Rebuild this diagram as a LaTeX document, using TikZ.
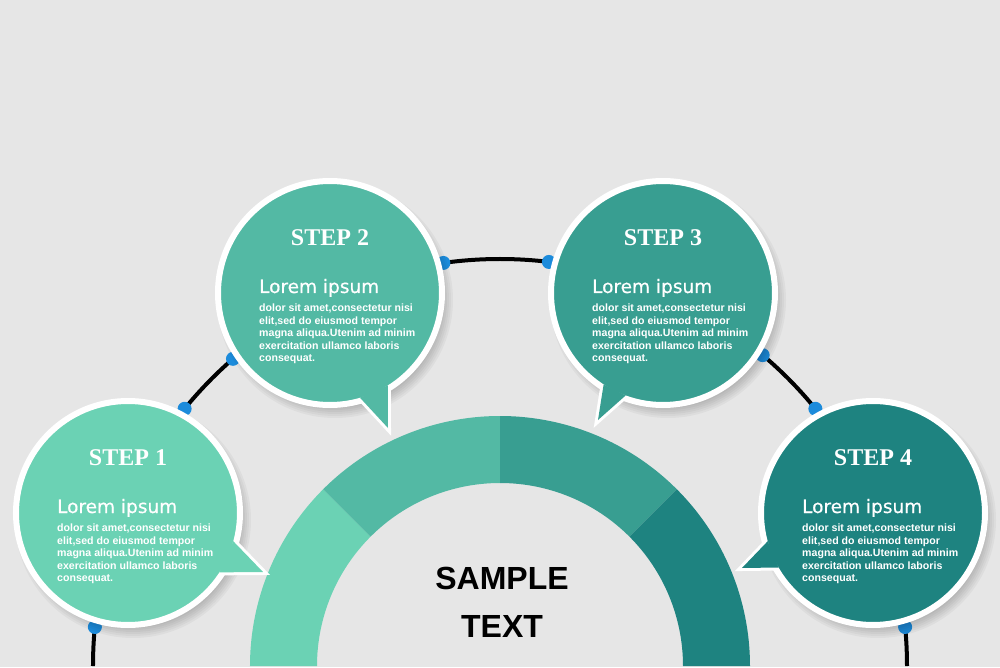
\documentclass[tikz,border=0pt]{standalone}
\usepackage{fontspec}
\setmainfont{Liberation Serif}
\newfontfamily\lorfont[FakeBold=0.5]{DejaVu Sans}
\newfontfamily\txtfont{Liberation Sans}
\definecolor{bgray}{HTML}{E6E6E6}
\definecolor{tealA}{HTML}{6BD2B4}
\definecolor{tealB}{HTML}{53B9A4}
\definecolor{tealC}{HTML}{389E91}
\definecolor{tealD}{HTML}{1E8380}
\definecolor{dotblue}{HTML}{1C8BDB}
\newcommand{\stepbody}{dolor sit amet,consectetur nisi\\elit,sed do eiusmod tempor\\magna aliqua.Utenim ad minim\\exercitation ullamco laboris\\consequat.}
% #1 number, #2 colour, #3 centre, #4 tip, #5 and #6 angles of the tail base
\newcommand{\speechbubble}[6]{%
  \coordinate (c#1) at (#3);
  \coordinate (tip#1) at (#4);
  \foreach \k in {0,...,6}
    \fill[black,opacity=.035] ([shift={(5,-7)}]c#1) circle (106+2*\k);
  \filldraw[white,line width=6pt,line join=miter] (tip#1) -- ([shift={(#5:109)}]c#1) -- ([shift={(#6:109)}]c#1) -- cycle;
  \node[bubble,fill=#2] (s#1) at (c#1) {};
  \fill[#2] (tip#1) -- ([shift={(#5:109)}]c#1) -- ([shift={(#6:109)}]c#1) -- cycle;
  \node[steplbl] (h#1) at ([shift={(0,55)}]c#1) {STEP #1};
  \node[loremlbl] (l#1) at ([shift={(-71,0)}]c#1) {Lorem ipsum};
  \node[bodylbl] (b#1) at ([shift={(-71,-11)}]c#1) {\stepbody};
}
\begin{document}
\begin{tikzpicture}[x=1pt,y=1pt,
  bubble/.style={circle,minimum size=224pt,inner sep=0pt,outer sep=0pt,draw=white,line width=6pt},
  steplbl/.style={text=white,font=\bfseries\fontsize{24}{26}\selectfont},
  loremlbl/.style={text=white,anchor=base west,inner sep=0pt,font=\lorfont\fontsize{18.5}{20}\selectfont},
  bodylbl/.style={text=white,anchor=north west,inner sep=0pt,align=left,font=\txtfont\bfseries\fontsize{10.6}{12.5}\selectfont},
  conn/.style={black,line width=4pt},
  dot/.style={fill=dotblue}]
\useasboundingbox (-500,-1) rectangle (500,666);
\fill[bgray] (-500,-1) rectangle (500,666);

%half ring in four parts
\foreach \a/\b/\c in {180/135/tealA,135/90/tealB,90/45/tealC,45/0/tealD}
  \fill[\c] (\a:250) arc[start angle=\a,end angle=\b,radius=250] -- (\b:183) arc[start angle=\b,end angle=\a,radius=183] -- cycle;
\node[font=\txtfont\bfseries\fontsize{32}{48}\selectfont,align=center] (sample) at (2,64) {SAMPLE\\TEXT};

%the big arc behind the bubbles
\coordinate (arcL) at (180:407);
\draw[conn] (arcL) arc[start angle=180,end angle=0,radius=407];
\foreach \a [count=\i] in {174.5,140.8,131,98,83.1,49.8,39.2,5.5}
  \fill[dot] (\a:407) circle (7) coordinate (d\i);

%bubbles
\speechbubble{1}{tealA}{-372,153}{-237,94}{-15}{-33}
\speechbubble{2}{tealB}{-170,373}{-112,238}{-74}{-58}
\speechbubble{3}{tealC}{163,373}{98,246}{237}{250}
\speechbubble{4}{tealD}{373,153}{242,98}{195}{210}
\end{tikzpicture}
\end{document}
